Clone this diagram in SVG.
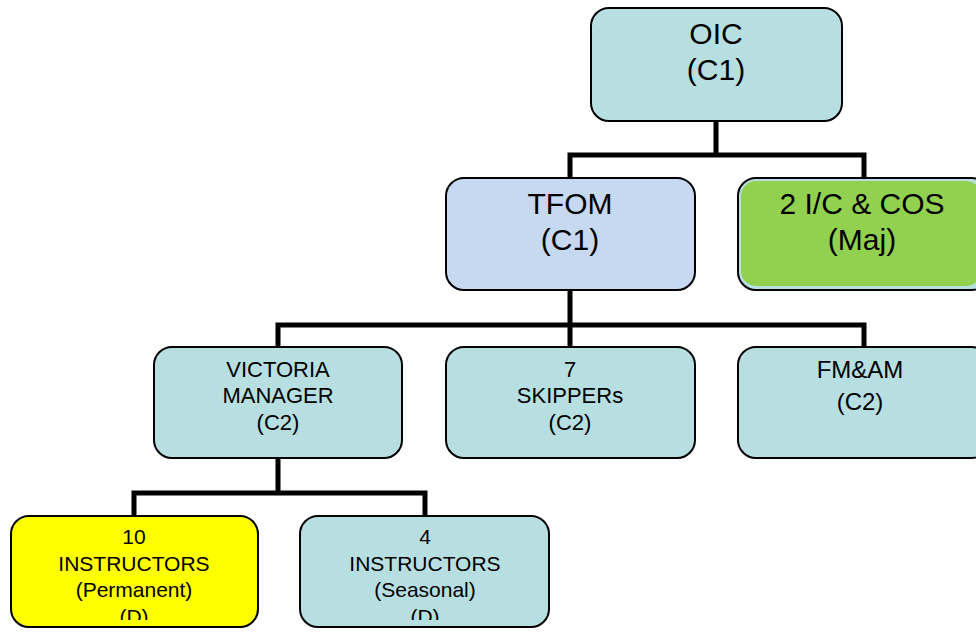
<svg xmlns="http://www.w3.org/2000/svg" width="976" height="633" viewBox="0 0 976 633">
<style>
.box{stroke:#000;stroke-width:2}
.teal{fill:#B7DFE2}
.conn{fill:none;stroke:#000;stroke-width:5;stroke-linejoin:miter}
text{font-family:"Liberation Sans",Arial,sans-serif;fill:#000;text-anchor:middle}
.big{font-size:30px}
.mid{font-size:24px}
.small{font-size:22px}
.tiny{font-size:21px}
</style>
<defs>
<clipPath id="clipL"><rect x="0" y="0" width="976" height="620"/></clipPath>
</defs>
<rect width="976" height="633" fill="#fff"/>
<g id="connectors">
<path class="conn" d="M716 121V155M570 178V155H864V178"/>
<path class="conn" d="M570 290V325M278 347V325H864V347M570 325V347"/>
<path class="conn" d="M278 458V493M134 516V493H425V516"/>
</g>
<g id="oic">
<rect class="box teal" x="591" y="8" width="251" height="113" rx="18"/>
<text class="big" x="716" y="44">OIC</text>
<text class="big" x="716" y="80">(C1)</text>
</g>
<g id="tfom">
<rect class="box" fill="#C6D9F1" x="446" y="178" width="249" height="112" rx="18"/>
<text class="big" x="570" y="214">TFOM</text>
<text class="big" x="570" y="250">(C1)</text>
</g>
<g id="ic">
<rect class="box teal" x="738" y="178" width="252" height="112" rx="18"/>
<rect fill="#92D050" x="741" y="181" width="240" height="105" rx="15"/>
<text class="big" x="862" y="214">2 I/C &amp; COS</text>
<text class="big" x="862" y="250">(Maj)</text>
</g>
<g id="victoria">
<rect class="box teal" x="154" y="347" width="248" height="111" rx="18"/>
<text class="small" x="278" y="377">VICTORIA</text>
<text class="small" x="278" y="403">MANAGER</text>
<text class="small" x="278" y="430">(C2)</text>
</g>
<g id="skippers">
<rect class="box teal" x="446" y="347" width="249" height="111" rx="18"/>
<text class="small" x="570" y="377">7</text>
<text class="small" x="570" y="403">SKIPPERs</text>
<text class="small" x="570" y="430">(C2)</text>
</g>
<g id="fmam">
<rect class="box teal" x="738" y="347" width="252" height="111" rx="18"/>
<text class="mid" x="860" y="378">FM&amp;AM</text>
<text class="mid" x="860" y="410">(C2)</text>
</g>
<g id="inst10">
<rect class="box" fill="#FFFF00" x="11" y="516" width="247" height="111" rx="18"/>
<g clip-path="url(#clipL)">
<text class="tiny" x="134" y="544">10</text>
<text class="tiny" x="134" y="571">INSTRUCTORS</text>
<text class="tiny" x="134" y="597">(Permanent)</text>
<text class="tiny" x="134" y="624">(D)</text>
</g>
</g>
<g id="inst4">
<rect class="box teal" x="300" y="516" width="249" height="111" rx="18"/>
<g clip-path="url(#clipL)">
<text class="tiny" x="425" y="544">4</text>
<text class="tiny" x="425" y="571">INSTRUCTORS</text>
<text class="tiny" x="425" y="597">(Seasonal)</text>
<text class="tiny" x="425" y="624">(D)</text>
</g>
</g>
</svg>
